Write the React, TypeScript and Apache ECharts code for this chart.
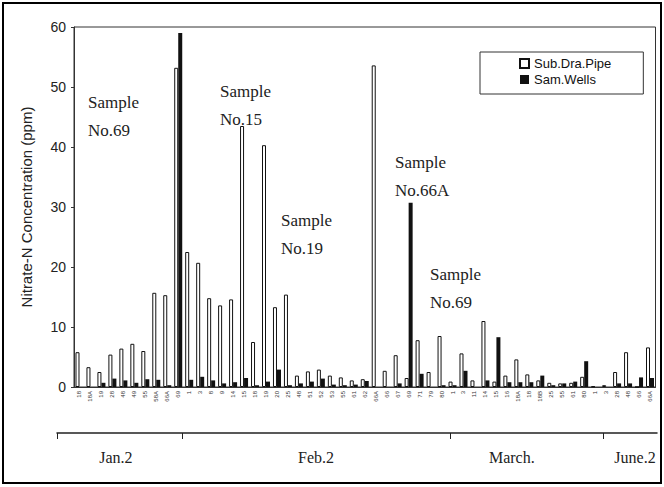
import React, { useEffect, useRef } from "react";
import * as echarts from "echarts";

// Sample numbers (x-axis categories), grouped by sampling date
const janSamples = ["18", "18A", "19", "28", "48", "49", "55", "58A", "66A", "69"];
const febSamples = ["1", "3", "8", "9", "14", "15", "18", "19", "20", "25", "48", "51", "52", "53", "55", "61", "62", "66A", "66", "67", "69", "71", "79", "80"];
const marSamples = ["1", "3", "11", "14", "15", "16", "18A", "18", "18B", "25", "55", "61", "80"];
const junSamples = ["1", "3", "28", "48", "66", "66A"];
const sampleLabels = [...janSamples, ...febSamples, ...marSamples, ...junSamples];

// Nitrate-N concentration (ppm)
const subDraPipe = [
  5.8, 3.3, 2.5, 5.4, 6.4, 7.2, 6.0, 15.7, 15.3, 53.2,
  22.5, 20.7, 14.8, 13.6, 14.6, 43.5, 7.5, 40.3, 13.3, 15.4, 1.9, 2.6, 2.9, 1.9, 1.6, 1.1, 1.3, 53.6, 2.7, 5.3, 1.5, 7.8, 2.5, 8.5,
  0.9, 5.6, 1.1, 11.0, 0.9, 1.9, 4.6, 2.1, 1.1, 0.7, 0.6, 0.7, 1.7,
  0.1, 0.3, 2.5, 5.8, 0, 6.6,
];
const samWells = [
  0, 0, 0.7, 1.4, 1.1, 0.7, 1.3, 1.2, 0.3, 59.0,
  1.2, 1.7, 1.1, 0.6, 0.8, 1.5, 0.3, 0.9, 2.9, 0.3, 0.6, 0.9, 1.4, 0.4, 0.3, 0.4, 1.0, 0, 0, 0.6, 30.7, 2.2, 0, 0.3,
  0.3, 2.7, 0, 1.1, 8.3, 0.8, 0.8, 0.8, 1.9, 0.3, 0.6, 0.9, 4.3,
  0, 0, 0.6, 0.6, 1.6, 1.5,
];

// Date axis (in category-band units from the left edge of the plot)
const monthNames = ["Jan.2", "Feb.2", "March.", "June.2"];
const monthLabelPos = [3.8, 22.0, 39.8, 51.0];
const monthBoundaries = [9.8, 34.2, 48.1];
const dateAxisStart = -1.55;

const annotationTexts = ["Sample\nNo.69", "Sample\nNo.15", "Sample\nNo.19", "Sample\nNo.66A", "Sample\nNo.69"];
const annotationAnchors = [
  [88, 88],
  [220, 77],
  [281, 206],
  [395, 148],
  [430, 260],
];

export default function App() {
  const ref = useRef<HTMLDivElement>(null);
  useEffect(() => {
    const chart = echarts.init(ref.current!, null, { renderer: "svg" });
    chart.setOption({
      animation: false,
      backgroundColor: "#fff",
      textStyle: { fontFamily: "Liberation Sans" },
      grid: [
        { left: 74, right: 8.5, top: 27, bottom: 100, show: true, borderColor: "#333", borderWidth: 1 },
        { left: 57, right: 7, top: 423, height: 10 },
      ],
      legend: {
        data: ["Sub.Dra.Pipe", "Sam.Wells"],
        orient: "vertical",
        left: 480,
        top: 52,
        padding: [5, 32, 8, 39],
        itemWidth: 9,
        itemHeight: 9,
        itemGap: 3,
        icon: "rect",
        borderColor: "#333",
        borderWidth: 1,
        textStyle: { fontFamily: "Liberation Sans", fontSize: 13, color: "#111" },
      },
      xAxis: [
        {
          type: "category",
          gridIndex: 0,
          data: sampleLabels,
          boundaryGap: true,
          axisLine: { lineStyle: { color: "#333" } },
          axisTick: { show: false },
          axisLabel: { interval: 0, rotate: 90, fontSize: 6, color: "#333", margin: 4 },
        },
        {
          type: "value",
          gridIndex: 1,
          min: dateAxisStart,
          max: 53,
          position: "bottom",
          splitLine: { show: false },
          axisLine: { lineStyle: { color: "#222", width: 1.5 } },
          axisTick: { show: true, customValues: [dateAxisStart, ...monthBoundaries], length: 6, lineStyle: { color: "#222" } },
          axisLabel: {
            customValues: monthLabelPos,
            formatter: (v: number) => {
              let best = 0;
              monthLabelPos.forEach((p, i) => {
                if (Math.abs(p - v) < Math.abs(monthLabelPos[best] - v)) best = i;
              });
              return monthNames[best];
            },
            fontFamily: "Liberation Serif",
            fontSize: 16,
            color: "#222",
            margin: 16,
          },
        },
      ],
      yAxis: [
        {
          type: "value",
          gridIndex: 0,
          min: 0,
          max: 60,
          interval: 10,
          name: "Nitrate-N Concentration (ppm)",
          nameLocation: "middle",
          nameGap: 40,
          nameTextStyle: { fontFamily: "Liberation Sans", fontSize: 15, color: "#222" },
          axisLine: { show: true, lineStyle: { color: "#333" } },
          axisTick: { show: true, length: 3, lineStyle: { color: "#333" } },
          splitLine: { show: false },
          axisLabel: { fontSize: 14, color: "#222", margin: 8 },
        },
        { type: "value", gridIndex: 1, show: false },
      ],
      series: [
        {
          name: "Sub.Dra.Pipe",
          type: "bar",
          xAxisIndex: 0,
          yAxisIndex: 0,
          data: subDraPipe,
          barWidth: 4,
          barGap: "0%",
          itemStyle: { color: "#fff", borderColor: "#111", borderWidth: 1 },
        },
        {
          name: "Sam.Wells",
          type: "bar",
          xAxisIndex: 0,
          yAxisIndex: 0,
          data: samWells,
          barWidth: 4,
          itemStyle: { color: "#111" },
        },
      ],
      graphic: [
        {
          type: "rect",
          shape: { x: 3, y: 3, width: 658, height: 480 },
          style: { fill: "none", stroke: "#000", lineWidth: 2 },
          silent: true,
        },
        ...annotationTexts.map((t, i) => ({
          type: "text",
          x: annotationAnchors[i][0],
          y: annotationAnchors[i][1],
          style: {
            text: t,
            fontFamily: "Liberation Serif",
            fontSize: 17,
            lineHeight: 28,
            fill: "#222",
          },
          silent: true,
        })),
      ],
    });
    return () => chart.dispose();
  }, []);
  return (
    <div
      ref={ref}
      style={{ position: "fixed", left: 0, top: 0, width: 664, height: 487, background: "#fff" }}
    />
  );
}
